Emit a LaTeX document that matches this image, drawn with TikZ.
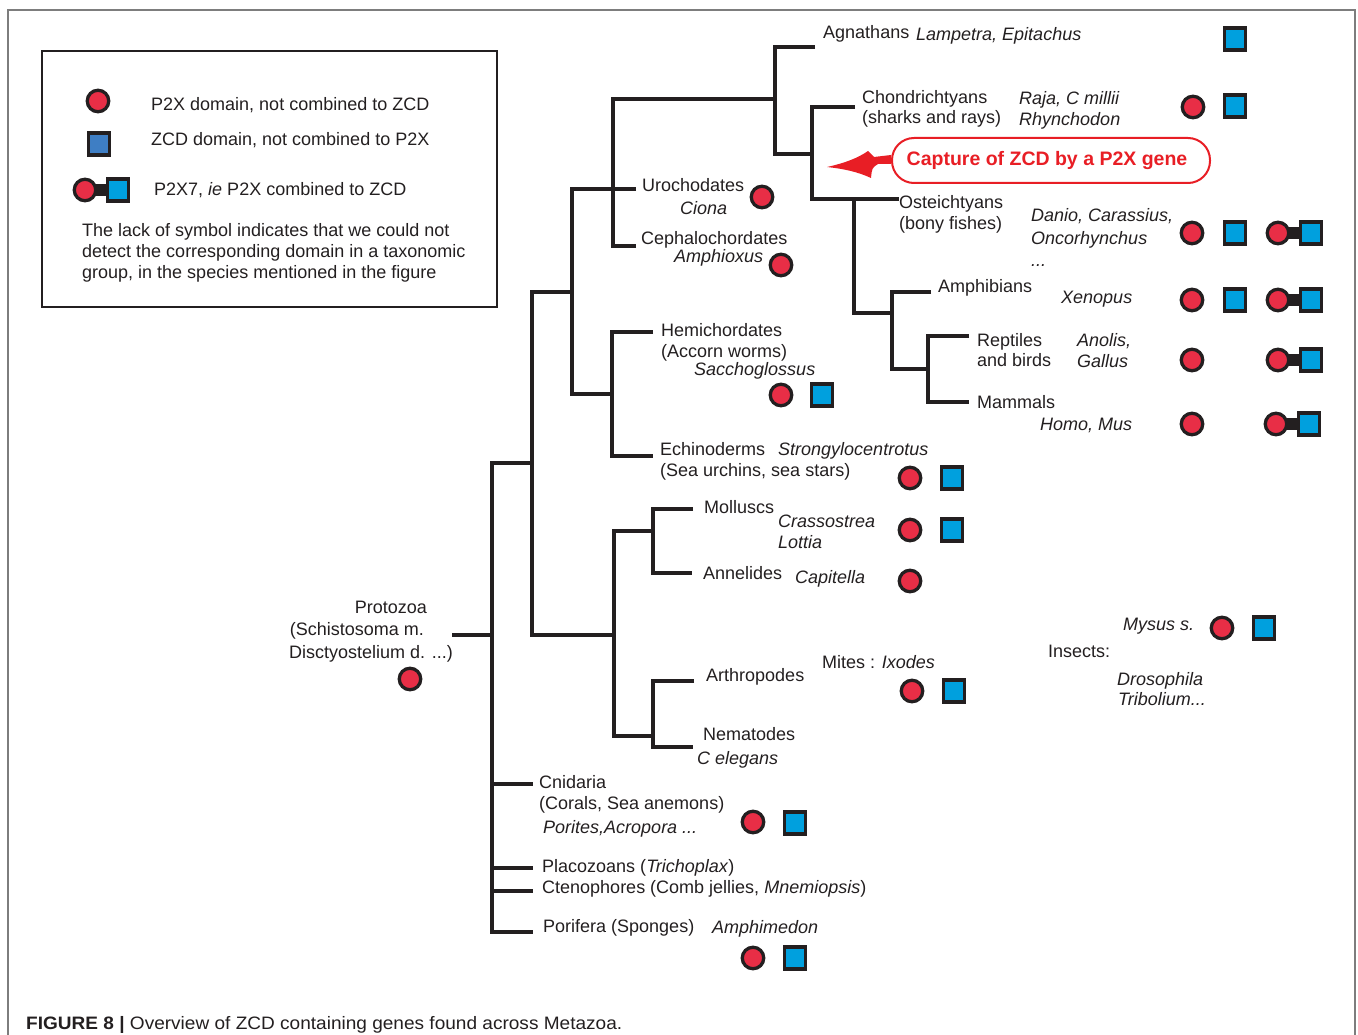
\documentclass[tikz,border=0pt]{standalone}
\usepackage{fontspec}
\setmainfont{Liberation Sans}
\usepackage{graphicx}
\definecolor{ink}{RGB}{35,31,32}
\definecolor{p2xred}{RGB}{232,46,70}
\definecolor{zcdblue}{RGB}{0,160,222}
\definecolor{legblue}{RGB}{62,126,196}
\definecolor{arrowred}{RGB}{232,30,37}
\definecolor{framegray}{RGB}{125,125,125}
\newcommand{\pcombo}[3]{%
  \draw[ink, line width=12pt] (#2,#3) -- ++(33,0);
  \node[p2x] (#1c) at (#2,#3) {};
  \node[zcd] (#1s) at ($(#2,#3)+(33,0)$) {};
}
\usetikzlibrary{calc}
\begin{document}
\begin{tikzpicture}[x=1pt,y=-1pt,
  lbl/.style={anchor=base west, inner sep=0pt, font=\fontsize{18}{21}\selectfont, text=ink},
  ilbl/.style={lbl, font=\fontsize{18}{21}\selectfont\itshape},
  rlbl/.style={lbl, anchor=base east},
  br/.style={draw=ink, line width=3.3pt, line join=miter, line cap=butt},
  p2x/.style={circle, draw=ink, line width=3.3pt, fill=p2xred, minimum size=21.5pt, inner sep=0pt},
  zcd/.style={rectangle, draw=ink, line width=3.3pt, fill=zcdblue, minimum width=21pt, minimum height=22pt, inner sep=0pt},
  zcdl/.style={zcd, fill=legblue}]
\useasboundingbox (0,0) rectangle (1358,1035);
% frame
\draw[framegray, line width=1.3pt] (8,1040) -- (8,10) -- (1355,10) -- (1355,1040);
% legend
\draw[ink, line width=1.6pt] (42,51) rectangle (497,307);
\node[p2x] (ls1) at (98,101) {};
\node[zcdl] (ls2) at (99,144) {};
\pcombo{ls3}{85}{190}
\node[lbl] (lg1) at (151,111) {P2X domain, not combined to ZCD};
\node[lbl] (lg2) at (151,146) {ZCD domain, not combined to P2X};
\node[lbl] (lg3) at (154,196) {P2X7, \textit{ie} P2X combined to ZCD};
\node[lbl] (lg4) at (82,237) {The lack of symbol indicates that we could not};
\node[lbl] (lg5) at (82,258) {detect the corresponding domain in a taxonomic};
\node[lbl] (lg6) at (82,279) {group, in the species mentioned in the figure};

% tree
\draw[br] (452,635) -- (492,635);
\draw[br] (532,463) -- (492,463) -- (492,932) -- (533,932);
\draw[br] (492,784) -- (533,784);
\draw[br] (492,868) -- (533,868);
\draw[br] (492,891) -- (533,891);
\draw[br] (572,292) -- (532,292) -- (532,635) -- (614,635);
\draw[br] (636,189) -- (572,189) -- (572,394) -- (612,394);
\draw[br] (636,246) -- (613,246) -- (613,99) -- (775,99);
\draw[br] (815,47) -- (775,47) -- (775,154) -- (812,154);
\draw[br] (855,107) -- (812,107) -- (812,199) -- (899,199);
\draw[br] (854,199) -- (854,313) -- (892,313);
\draw[br] (931,292) -- (892,292) -- (892,369) -- (928,369);
\draw[br] (969,336) -- (928,336) -- (928,402) -- (969,402);
\draw[br] (653,332) -- (612,332) -- (612,456) -- (653,456);
\draw[br] (653,531) -- (614,531) -- (614,736) -- (653,736);
\draw[br] (693,509) -- (653,509) -- (653,573) -- (692,573);
\draw[br] (694,681) -- (653,681) -- (653,747) -- (693,747);

% labels
\node[lbl] (agn) at (823,39) {Agnathans};
\node[ilbl] (agns) at (916,41) {Lampetra, Epitachus};
\node[lbl] (cho1) at (862,104) {Chondrichtyans};
\node[lbl] (cho2) at (862,124) {(sharks and rays)};
\node[ilbl] (chos1) at (1019,105) {Raja, C millii};
\node[ilbl] (chos2) at (1019,126) {Rhynchodon};
\node[lbl] (ost1) at (899,209) {Osteichtyans};
\node[lbl] (ost2) at (899,230) {(bony fishes)};
\node[ilbl] (osts1) at (1031,222) {Danio, Carassius,};
\node[ilbl] (osts2) at (1031,245) {Oncorhynchus};
\node[ilbl] (osts3) at (1031,267) {...};
\node[lbl] (amp) at (938,293) {Amphibians};
\node[ilbl] (amps) at (1061,304) {Xenopus};
\node[lbl] (rep1) at (977,346) {Reptiles};
\node[lbl] (rep2) at (977,366) {and birds};
\node[ilbl] (reps1) at (1077,346) {Anolis,};
\node[ilbl] (reps2) at (1077,367) {Gallus};
\node[lbl] (mam) at (977,408) {Mammals};
\node[ilbl] (mams) at (1040,430) {Homo, Mus};
\node[lbl] (uro) at (642,192) {Urochodates};
\node[ilbl] (uros) at (680,215) {Ciona};
\node[lbl] (cep) at (641,245) {Cephalochordates};
\node[ilbl] (ceps) at (674,262) {Amphioxus};
\node[lbl] (hem1) at (661,336) {Hemichordates};
\node[lbl] (hem2) at (661,357) {(Accorn worms)};
\node[ilbl] (hems) at (694,375) {Sacchoglossus};
\node[lbl] (ech1) at (660,455) {Echinoderms};
\node[ilbl] (echs) at (778,455) {Strongylocentrotus};
\node[lbl] (ech2) at (660,476) {(Sea urchins, sea stars)};
\node[lbl] (mol) at (704,513) {Molluscs};
\node[ilbl] (mols1) at (778,527) {Crassostrea};
\node[ilbl] (mols2) at (778,548) {Lottia};
\node[lbl] (ann) at (703,579) {Annelides};
\node[ilbl] (anns) at (795,583) {Capitella};
\node[lbl] (art) at (706,681) {Arthropodes};
\node[lbl] (mit) at (822,668) {Mites : \textit{Ixodes}};
\node[lbl] (nem) at (703,740) {Nematodes};
\node[ilbl] (nems) at (697,764) {C elegans};
\node[ilbl] (mys) at (1123,630) {Mysus s.};
\node[lbl] (ins) at (1048,657) {Insects:};
\node[ilbl] (dro) at (1117,685) {Drosophila};
\node[ilbl] (tri) at (1118,705) {Tribolium...};
\node[rlbl] (pro1) at (427,613) {Protozoa};
\node[rlbl] (pro2) at (424,635) {(Schistosoma m.};
\node[rlbl] (pro3) at (453,658) {Disctyostelium d. ...)};
\node[lbl] (cni1) at (539,788) {Cnidaria};
\node[lbl] (cni2) at (539,809) {(Corals, Sea anemons)};
\node[ilbl] (cnis) at (543,833) {Porites,Acropora ...};
\node[lbl] (pla) at (542,872) {Placozoans (\textit{Trichoplax})};
\node[lbl] (cte) at (542,893) {Ctenophores (Comb jellies, \textit{Mnemiopsis})};
\node[lbl] (por) at (543,932) {Porifera (Sponges)};
\node[ilbl] (pors) at (712,933) {Amphimedon};

% symbols
\node[zcd] (s1) at (1235,39) {};
\node[p2x] (c2) at (1193,107) {};
\node[zcd] (s2) at (1235,106) {};
\node[p2x] (c3) at (1192,233) {};
\node[zcd] (s3) at (1235,233) {};
\pcombo{k3}{1278}{233}
\node[p2x] (c4) at (1192,300) {};
\node[zcd] (s4) at (1235,300) {};
\pcombo{k4}{1278}{300}
\node[p2x] (c5) at (1192,360) {};
\pcombo{k5}{1278}{360}
\node[p2x] (c6) at (1192,424) {};
\pcombo{k6}{1276}{424}
\node[p2x] (c7) at (762,197) {};
\node[p2x] (c8) at (781,265) {};
\node[p2x] (c9) at (781,395) {};
\node[zcd] (s9) at (822,395) {};
\node[p2x] (c10) at (910,478) {};
\node[zcd] (s10) at (952,478) {};
\node[p2x] (c11) at (910,530) {};
\node[zcd] (s11) at (952,530) {};
\node[p2x] (c12) at (910,581) {};
\node[p2x] (c13) at (912,691) {};
\node[zcd] (s13) at (954,691) {};
\node[p2x] (c14) at (1222,628) {};
\node[zcd] (s14) at (1264,628) {};
\node[p2x] (c15) at (753,822) {};
\node[zcd] (s15) at (795,823) {};
\node[p2x] (c16) at (753,958) {};
\node[zcd] (s16) at (795,958) {};
\node[p2x] (c17) at (410,679) {};

% capture arrow and box
\node[draw=arrowred, line width=2pt, rounded corners=22pt, minimum width=318pt, minimum height=45pt, inner sep=0pt] (capbox) at (1051,160.5) {};
\node[anchor=base, inner sep=0pt, text=arrowred, font=\fontsize{19.5}{22}\selectfont\bfseries] (captxt) at (1047,166) {Capture of ZCD by a P2X gene};
\fill[arrowred] (827,167) .. controls (845,163) and (858,158) .. (868,151)
  -- (874,157) -- (capbox.west |- 0,155) -- (capbox.west |- 0,164) -- (878,164)
  .. controls (872,168) .. (871,178) .. controls (858,172) and (845,169) .. cycle;

% caption
\node[anchor=base west, inner sep=0pt, text=ink] (cap) at (26,1029) {\resizebox{596pt}{\height}{\fontsize{18}{20}\selectfont\textbf{FIGURE 8 |} Overview of ZCD containing genes found across Metazoa.}};
\end{tikzpicture}
\end{document}
